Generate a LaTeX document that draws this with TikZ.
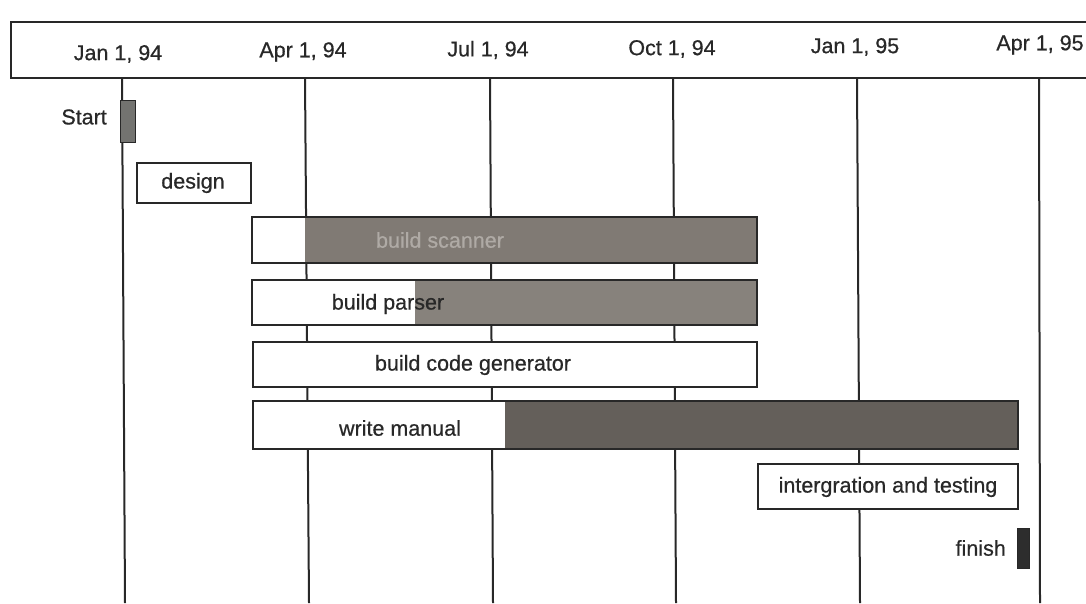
\documentclass[tikz,border=0pt]{standalone}
\usepackage{fontspec}
\setmainfont{Liberation Sans}
\newfontfamily\lblfont[FakeBold=0.6]{Liberation Sans}
\definecolor{scanfill}{RGB}{128,122,116}
\definecolor{parsefill}{RGB}{135,130,124}
\definecolor{manfill}{RGB}{100,95,90}
\definecolor{startfill}{RGB}{115,115,112}
\definecolor{finfill}{RGB}{45,45,45}
\definecolor{inkc}{RGB}{40,40,40}
\definecolor{fadetxt}{RGB}{175,170,165}
\begin{document}
\begin{tikzpicture}[x=1pt,y=-1pt,
  grid/.style={draw=inkc,line width=2pt},
  frame/.style={draw=inkc,line width=2.4pt},
  taskbox/.style={draw=inkc,line width=1.8pt,inner sep=0pt,outer sep=0pt,anchor=north west},
  lbl/.style={font=\lblfont\fontsize{21.5}{23}\selectfont,text=inkc,inner sep=0pt},
  datelbl/.style={font=\lblfont\fontsize{21.5}{23}\selectfont,text=inkc,inner sep=0pt}]
\useasboundingbox[fill=white] (0,0) rectangle (1086,603);
% header
\node[frame,fill=white,minimum width=1082pt,minimum height=56pt,anchor=north west,inner sep=0pt] (hdr) at (10,21) {};
\node[datelbl] (d1) at (118,54) {Jan 1, 94};
\node[datelbl] (d2) at (303,52) {Apr 1, 94};
\node[datelbl] (d3) at (488,50) {Jul 1, 94};
\node[datelbl] (d4) at (672,49) {Oct 1, 94};
\node[datelbl] (d5) at (855,47) {Jan 1, 95};
\node[datelbl] (d6) at (1040,45) {Apr 1, 95};
% vertical grid lines
\foreach \n/\xa/\xb in {1/122/125,2/305/309,3/490/493,4/673/676,5/857/860,6/1039/1040}{
  \coordinate (t\n) at (\xa,78);
  \coordinate (b\n) at (\xb,603);
  \draw[grid] (t\n) -- (b\n);
}
% start
\node[draw=inkc,line width=1pt,fill=startfill,minimum width=15pt,minimum height=42pt,inner sep=0pt,anchor=north west] (startbar) at (120,100) {};
\node[lbl,anchor=east] (startlbl) at (107,117) {Start};
% design
\fill[white] (137,163) rectangle (251,203);
\node[taskbox,minimum width=114pt,minimum height=40pt] (design) at (137,163) {};
\node[lbl] (designlbl) at (193,183) {design};
% build scanner
\fill[white] (252,217) rectangle (305,263);
\fill[scanfill] (305,217) rectangle (757,263);
\node[taskbox,minimum width=505pt,minimum height=46pt] (scan) at (252,217) {};
\node[lbl,text=fadetxt] (scanlbl) at (440,240) {build scanner};
% build parser
\fill[white] (252,280) rectangle (415,325);
\fill[parsefill] (415,280) rectangle (757,325);
\node[taskbox,minimum width=505pt,minimum height=45pt] (parse) at (252,280) {};
\node[lbl] (parselbl) at (388,304) {build parser};
% build code generator
\fill[white] (253,342) rectangle (757,387);
\node[taskbox,minimum width=504pt,minimum height=45pt] (codegen) at (253,342) {};
\node[lbl] (codegenlbl) at (473,365) {build code generator};
% write manual
\fill[white] (253,401) rectangle (505,449);
\fill[manfill] (505,401) rectangle (1018,449);
\node[taskbox,minimum width=765pt,minimum height=48pt] (manual) at (253,401) {};
\node[lbl] (manuallbl) at (400,428) {write manual};
% integration and testing
\fill[white] (758,464) rectangle (1018,509);
\node[taskbox,minimum width=260pt,minimum height=45pt] (integ) at (758,464) {};
\node[lbl] (integlbl) at (888,487) {intergration and testing};
% finish
\node[draw=inkc,line width=1pt,fill=finfill,minimum width=12pt,minimum height=40pt,inner sep=0pt,anchor=north west] (finbar) at (1017,528) {};
\node[lbl,anchor=east] (finlbl) at (1006,548) {finish};
\end{tikzpicture}
\end{document}
